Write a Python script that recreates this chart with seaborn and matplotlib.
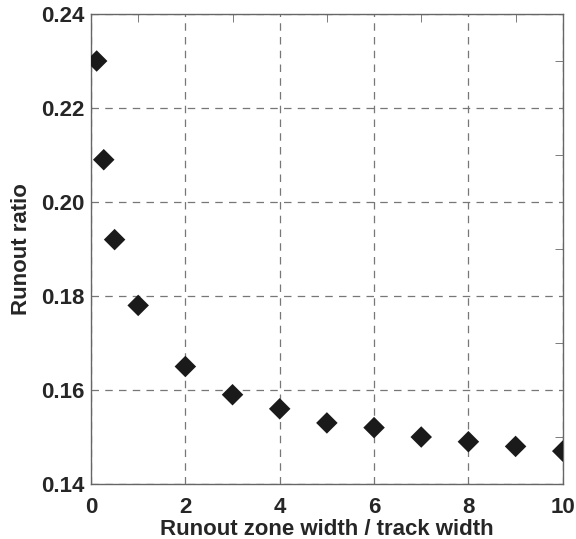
import numpy as np
import pandas as pd
import matplotlib
matplotlib.use("Agg")
import matplotlib.pyplot as plt
import seaborn as sns
from matplotlib.ticker import MultipleLocator

# ── DATA ───────────────────────────────────────────────
zone_width = [0.12, 0.27, 0.5, 1, 2, 3, 4, 5, 6, 7, 8, 9, 10]
runout_ratio = [0.230, 0.209, 0.192, 0.178, 0.165, 0.159, 0.156,
                0.153, 0.152, 0.150, 0.149, 0.148, 0.147]
df = pd.DataFrame({"width": zone_width, "ratio": runout_ratio})

sns.set_style("white")
plt.rcParams['font.family'] = ['Liberation Sans', 'DejaVu Sans']
plt.rcParams['font.weight'] = 'bold'

fig = plt.figure(figsize=(5.76, 5.39), dpi=100)
ax = fig.add_axes([0.158, 0.102, 0.819, 0.872])

sns.scatterplot(data=df, x="width", y="ratio", marker="D", s=120,
                color="#1a1a1a", edgecolor="none", ax=ax, zorder=3)

ax.set_xlim(0, 10)
ax.set_ylim(0.14, 0.24)
ax.xaxis.set_major_locator(MultipleLocator(2))
ax.xaxis.set_minor_locator(MultipleLocator(1))
ax.yaxis.set_major_locator(MultipleLocator(0.02))
ax.yaxis.set_minor_locator(MultipleLocator(0.01))
ax.set_yticklabels([f"{v:.2f}" for v in ax.get_yticks()])

ax.grid(True, which='major', linestyle=(0, (6, 5)), color='#777777', linewidth=0.9)
for s in ax.spines.values():
    s.set_color('#666666')
    s.set_linewidth(1.0)
ax.tick_params(which='both', direction='in', top=True, right=True,
               color='#666666', labelsize=16)
ax.tick_params(axis='x', pad=9)
ax.tick_params(axis='y', pad=5)
ax.tick_params(which='major', length=0)
ax.tick_params(which='minor', length=6)

ax.set_xlabel("Runout zone width / track width", fontsize=16, fontweight='bold', labelpad=1)
ax.set_ylabel("Runout ratio", fontsize=16, fontweight='bold', labelpad=6)

plt.savefig("out.png", dpi=100)
